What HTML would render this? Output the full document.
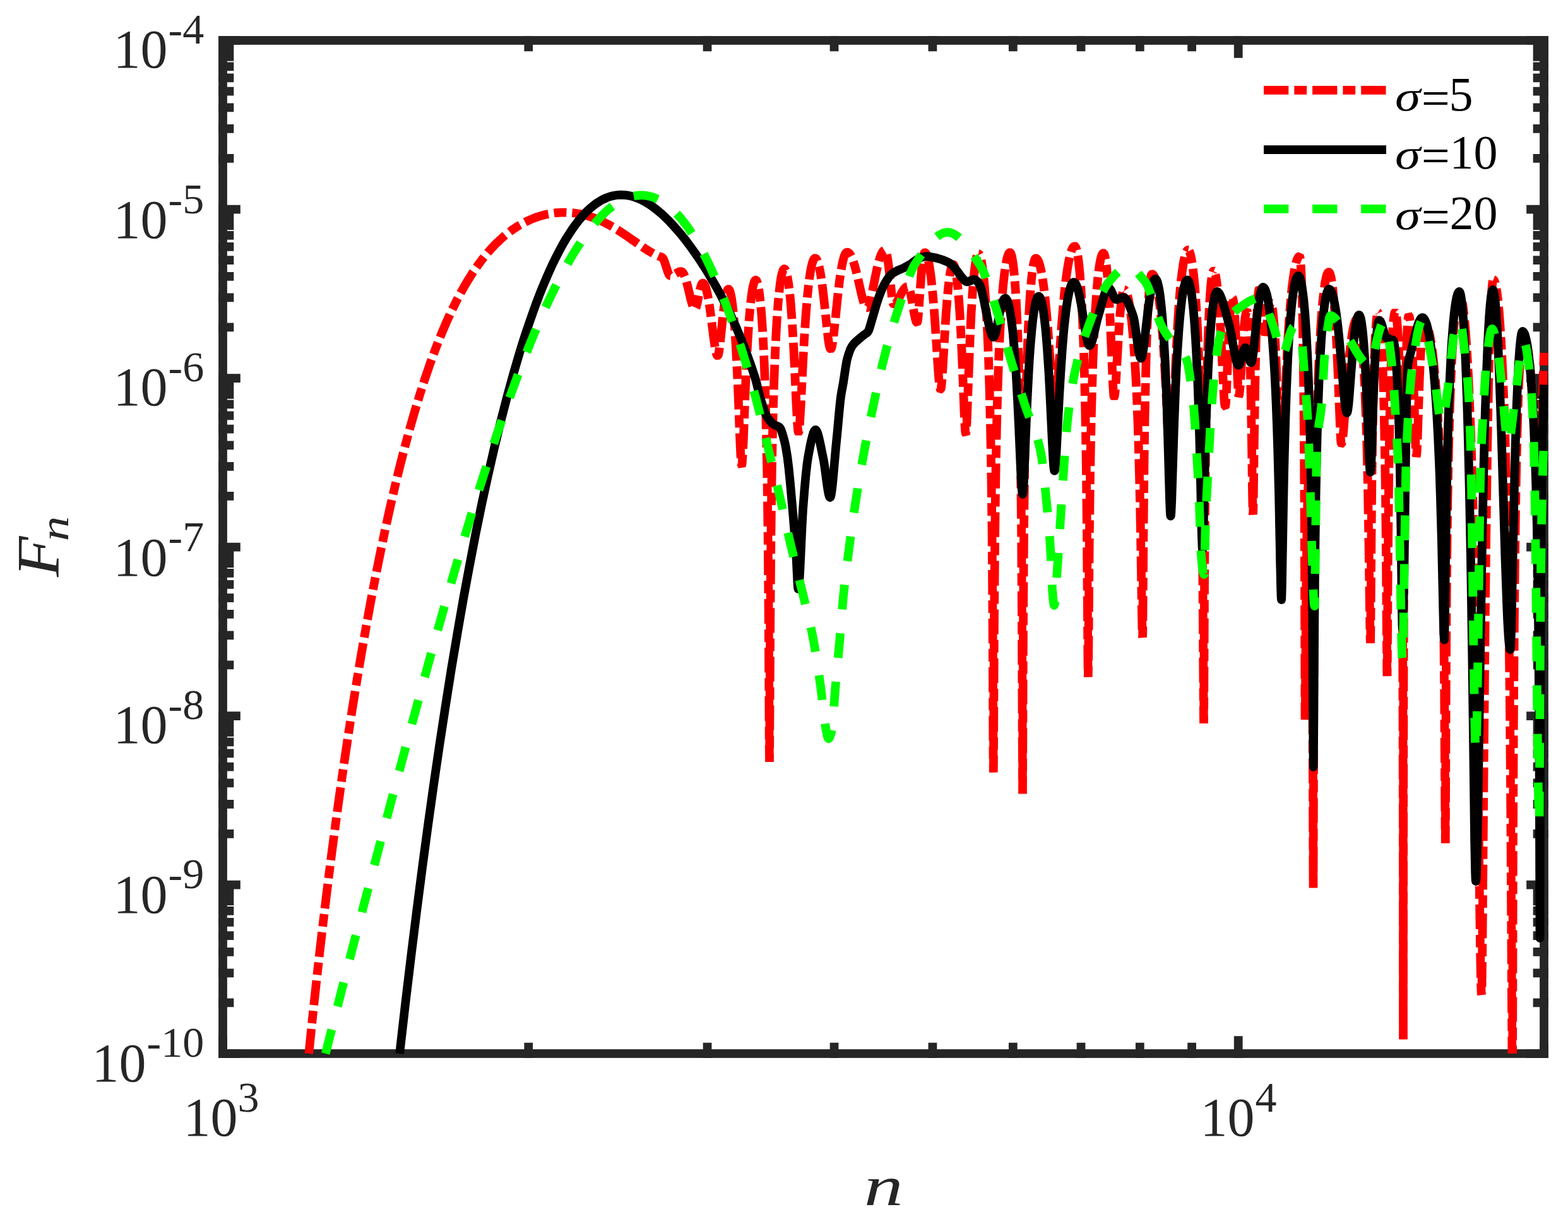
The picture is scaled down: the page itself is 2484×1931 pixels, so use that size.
<!DOCTYPE html>
<html lang="en"><head><meta charset="utf-8"><title>F_n versus n</title>
<style>
html,body{margin:0;padding:0;background:#fff}
body{width:2484px;height:1931px;overflow:hidden}
svg{display:block}
text{font-family:"Liberation Serif","DejaVu Serif",serif}
</style></head><body>
<svg width="2484" height="1931" viewBox="0 0 2484 1931">
<rect x="353.0" y="64.0" width="2093.0" height="1605.0" fill="none" stroke="#262626" stroke-width="13.75"/>
<path d="M353.00 1669.00h20.93M2446.00 1669.00h-20.93M353.00 1588.47h10.46M2446.00 1588.47h-10.46M353.00 1541.37h10.46M2446.00 1541.37h-10.46M353.00 1507.95h10.46M2446.00 1507.95h-10.46M353.00 1482.03h10.46M2446.00 1482.03h-10.46M353.00 1460.84h10.46M2446.00 1460.84h-10.46M353.00 1442.94h10.46M2446.00 1442.94h-10.46M353.00 1427.42h10.46M2446.00 1427.42h-10.46M353.00 1413.74h10.46M2446.00 1413.74h-10.46M353.00 1401.50h20.93M2446.00 1401.50h-20.93M353.00 1320.97h10.46M2446.00 1320.97h-10.46M353.00 1273.87h10.46M2446.00 1273.87h-10.46M353.00 1240.45h10.46M2446.00 1240.45h-10.46M353.00 1214.53h10.46M2446.00 1214.53h-10.46M353.00 1193.34h10.46M2446.00 1193.34h-10.46M353.00 1175.44h10.46M2446.00 1175.44h-10.46M353.00 1159.92h10.46M2446.00 1159.92h-10.46M353.00 1146.24h10.46M2446.00 1146.24h-10.46M353.00 1134.00h20.93M2446.00 1134.00h-20.93M353.00 1053.47h10.46M2446.00 1053.47h-10.46M353.00 1006.37h10.46M2446.00 1006.37h-10.46M353.00 972.95h10.46M2446.00 972.95h-10.46M353.00 947.03h10.46M2446.00 947.03h-10.46M353.00 925.84h10.46M2446.00 925.84h-10.46M353.00 907.94h10.46M2446.00 907.94h-10.46M353.00 892.42h10.46M2446.00 892.42h-10.46M353.00 878.74h10.46M2446.00 878.74h-10.46M353.00 866.50h20.93M2446.00 866.50h-20.93M353.00 785.97h10.46M2446.00 785.97h-10.46M353.00 738.87h10.46M2446.00 738.87h-10.46M353.00 705.45h10.46M2446.00 705.45h-10.46M353.00 679.53h10.46M2446.00 679.53h-10.46M353.00 658.34h10.46M2446.00 658.34h-10.46M353.00 640.44h10.46M2446.00 640.44h-10.46M353.00 624.92h10.46M2446.00 624.92h-10.46M353.00 611.24h10.46M2446.00 611.24h-10.46M353.00 599.00h20.93M2446.00 599.00h-20.93M353.00 518.47h10.46M2446.00 518.47h-10.46M353.00 471.37h10.46M2446.00 471.37h-10.46M353.00 437.95h10.46M2446.00 437.95h-10.46M353.00 412.03h10.46M2446.00 412.03h-10.46M353.00 390.84h10.46M2446.00 390.84h-10.46M353.00 372.94h10.46M2446.00 372.94h-10.46M353.00 357.42h10.46M2446.00 357.42h-10.46M353.00 343.74h10.46M2446.00 343.74h-10.46M353.00 331.50h20.93M2446.00 331.50h-20.93M353.00 250.97h10.46M2446.00 250.97h-10.46M353.00 203.87h10.46M2446.00 203.87h-10.46M353.00 170.45h10.46M2446.00 170.45h-10.46M353.00 144.53h10.46M2446.00 144.53h-10.46M353.00 123.34h10.46M2446.00 123.34h-10.46M353.00 105.44h10.46M2446.00 105.44h-10.46M353.00 89.92h10.46M2446.00 89.92h-10.46M353.00 76.24h10.46M2446.00 76.24h-10.46M353.00 64.00h20.93M2446.00 64.00h-20.93M353.00 1669.00v-20.93M353.00 64.00v20.93M1961.70 1669.00v-20.93M1961.70 64.00v20.93M837.27 1669.00v-10.46M837.27 64.00v10.46M1120.54 1669.00v-10.46M1120.54 64.00v10.46M1321.53 1669.00v-10.46M1321.53 64.00v10.46M1477.43 1669.00v-10.46M1477.43 64.00v10.46M1604.81 1669.00v-10.46M1604.81 64.00v10.46M1712.51 1669.00v-10.46M1712.51 64.00v10.46M1805.80 1669.00v-10.46M1805.80 64.00v10.46M1888.09 1669.00v-10.46M1888.09 64.00v10.46M2445.97 1669.00v-10.46M2445.97 64.00v10.46" fill="none" stroke="#262626" stroke-width="13.75" stroke-linecap="square"/>
<g fill="none" stroke="#ff0000" stroke-width="13.75" stroke-linejoin="bevel" stroke-linecap="butt" stroke-dasharray="39.3 9 19.8 9">
<path d="M489.3 1669.0 L494.6 1616.6 L500.6 1560.7 L506.6 1507.0 L512.6 1455.5 L518.6 1406.1 L525.1 1354.6 L531.6 1305.2 L538.1 1257.8 L544.6 1212.2 L551.6 1165.1 L558.6 1119.9 L565.6 1076.6 L572.6 1035.0 L580.1 992.3 L587.6 951.4 L595.1 912.4 L602.6 875.1 L610.1 839.4 L617.6 805.4 L625.6 770.8 L633.1 740.0 L641.1 708.8 L649.1 679.2 L657.1 651.3 L665.1 624.9 L673.1 600.1 L681.1 576.7 L689.6 553.5 L698.1 531.8 L706.6 511.7 L715.1 493.0 L723.6 475.7 L732.1 459.8 L736.6 451.9 L741.1 444.3 L745.6 437.1 L750.1 430.1 L754.6 423.6 L759.1 417.3 L763.6 411.3 L768.6 405.0 L773.6 399.1 L778.1 394.0 L782.6 389.2 L787.6 384.2 L792.6 379.5 L797.6 375.0 L802.6 370.9 L807.6 367.0 L812.6 363.4 L818.1 359.7 L823.6 356.4 L829.1 353.3 L834.6 350.5 L840.1 348.0 L846.1 345.5 L851.6 343.5 L857.1 341.8 L862.6 340.3 L868.6 339.0 L874.1 338.0 L880.1 337.2 L885.6 336.8 L889.1 336.6 L895.6 336.5 L902.1 336.8 L909.6 337.5 L917.6 338.7 L925.6 340.5 L933.6 342.7 L941.6 345.5 L949.6 348.7 L956.6 352.0 L963.6 355.6 L970.6 359.5 L978.1 364.0 L984.6 368.2 L991.6 372.9 L1019.1 392.0 L1025.3 396.1 L1030.2 399.0 L1035.2 401.8 L1039.7 404.1 L1044.7 406.3 L1049.0 407.8 L1049.5 408.1 L1050.5 409.4 L1052.0 412.6 L1053.5 416.8 L1058.0 430.8 L1059.5 434.4 L1060.5 436.0 L1061.0 436.5 L1061.5 436.9 L1062.5 437.0 L1064.0 436.8 L1065.5 436.3 L1068.0 435.0 L1074.0 431.4 L1076.0 430.5 L1077.5 430.1 L1079.0 430.0 L1080.0 430.2 L1081.0 430.9 L1082.5 432.9 L1083.5 434.7 L1085.0 438.3 L1086.0 441.2 L1087.5 446.2 L1089.5 453.9 L1094.5 474.9 L1096.5 482.0 L1097.5 484.8 L1098.5 487.1 L1099.5 488.6 L1100.5 489.4 L1101.0 489.5 L1101.5 489.3 L1102.0 488.7 L1103.0 486.5 L1104.5 480.9 L1108.4 461.0 L1109.9 454.9 L1110.9 451.8 L1111.9 449.6 L1112.4 448.9 L1112.9 448.5 L1113.4 448.4 L1113.9 448.5" stroke-dashoffset="0.00"/>
<path d="M1113.4 448.4 L1113.9 448.5 L1114.9 449.1 L1115.9 450.4 L1116.9 452.4 L1117.9 455.0 L1118.9 458.3 L1120.9 466.6 L1122.9 477.5 L1124.9 490.5 L1126.8 505.4 L1130.8 537.0 L1132.8 550.7 L1133.8 556.1 L1134.8 560.2 L1135.8 562.8 L1136.3 563.5 L1136.8 563.7 L1137.3 563.4 L1137.8 562.3 L1138.3 560.6 L1138.8 558.3 L1139.7 552.1 L1141.2 539.7 L1145.6 497.0 L1147.1 484.9 L1148.6 474.7 L1150.1 466.9 L1151.5 461.5 L1152.5 459.3 L1153.0 458.6 L1153.5 458.1 L1154.0 458.0 L1154.5 458.2" stroke-dashoffset="12.32"/>
<path d="M1154.0 458.0 L1154.5 458.2 L1155.0 458.6 L1155.5 459.4 L1156.5 461.8 L1158.1 467.9 L1159.1 473.6 L1160.6 484.7 L1161.6 493.9 L1163.7 517.1 L1165.7 547.3 L1167.7 585.7 L1169.3 620.2 L1172.1 693.8 L1173.3 719.5 L1174.2 733.0 L1174.6 736.1 L1174.8 736.8 L1175.0 737.0 L1175.2 736.6 L1175.4 735.7 L1175.8 732.5 L1176.8 717.2 L1177.7 697.9 L1181.0 612.2 L1182.5 577.9 L1184.5 539.6 L1186.5 509.1 L1187.6 496.5 L1189.1 480.4 L1190.1 471.5 L1191.6 460.6 L1192.6 454.9 L1194.2 448.6 L1194.7 447.1 L1195.7 444.8 L1196.2 444.2 L1196.7 443.7 L1197.2 443.6 L1197.7 443.7" stroke-dashoffset="1.40"/>
<path d="M1197.2 443.6 L1197.7 443.7 L1198.2 444.2 L1198.7 444.9 L1199.7 447.4 L1200.7 451.0 L1201.7 455.9 L1203.2 465.8 L1204.2 474.2 L1206.2 495.8 L1208.2 525.0 L1209.7 553.1 L1211.2 588.2 L1212.6 632.7 L1214.1 691.0 L1215.2 743.5 L1216.0 800.8 L1216.7 857.6 L1217.6 966.8 L1218.7 1181.7 L1219.0 1207.0 L1219.2 1184.0 L1220.3 977.4 L1221.5 840.8 L1222.2 783.7 L1223.1 726.2 L1224.2 674.8 L1225.7 618.8 L1227.3 575.7 L1228.8 541.3 L1230.8 505.4 L1232.8 478.1 L1234.9 457.5 L1235.9 449.4 L1237.4 439.6 L1238.4 434.7 L1240.0 429.4 L1241.0 427.2 L1241.5 426.5 L1242.0 426.1 L1242.5 426.0 L1243.0 426.1" stroke-dashoffset="32.80"/>
<path d="M1242.5 426.0 L1243.0 426.1 L1243.5 426.5 L1244.0 427.2 L1245.1 429.4 L1246.6 434.6 L1247.6 439.6 L1249.2 449.2 L1250.2 457.1 L1251.8 471.4 L1252.8 482.7 L1254.8 509.8 L1256.9 543.5 L1258.4 573.1 L1261.5 639.5 L1262.9 666.4 L1263.6 676.0 L1264.0 680.8 L1264.6 684.1 L1264.8 684.8 L1265.0 685.0 L1265.3 684.7 L1265.5 683.9 L1266.0 681.1 L1266.5 676.8 L1267.1 668.0 L1268.6 642.8 L1272.3 568.6 L1274.3 533.1 L1276.8 496.2 L1279.3 466.9 L1280.8 452.7 L1282.3 440.7 L1283.8 430.8 L1285.3 422.8 L1286.8 416.7 L1288.3 412.4 L1288.8 411.4 L1289.8 409.8 L1290.3 409.4 L1290.8 409.1 L1291.3 409.0 L1292.3 409.3" stroke-dashoffset="35.47"/>
<path d="M1291.3 409.0 L1292.3 409.3 L1292.8 409.7 L1293.8 411.0 L1294.8 413.0 L1295.7 415.6 L1296.7 418.9 L1297.7 422.8 L1298.7 427.4 L1300.2 435.5 L1302.2 448.6 L1304.1 464.1 L1306.1 481.7 L1310.1 519.6 L1312.0 536.6 L1313.0 543.4 L1314.0 548.6 L1315.0 551.9 L1315.5 552.7 L1316.1 553.0 L1316.5 552.7 L1317.0 551.9 L1317.9 549.1 L1318.7 544.7 L1320.0 535.9 L1321.7 521.3 L1327.8 462.7 L1330.3 442.2 L1332.4 428.6 L1334.4 417.6 L1335.4 413.1 L1336.9 407.5 L1337.9 404.6 L1339.5 401.5 L1340.5 400.2 L1341.0 399.8 L1342.0 399.5 L1343.0 399.7" stroke-dashoffset="33.34"/>
<path d="M1342.0 399.5 L1343.0 399.7 L1344.0 400.1 L1345.0 400.9 L1346.5 402.6 L1347.5 404.1 L1349.0 407.0 L1351.5 413.1 L1354.0 420.9 L1356.5 430.2 L1359.0 440.7 L1364.5 465.0 L1366.0 471.1 L1367.5 476.6 L1369.0 481.2 L1370.5 484.6 L1371.5 486.2 L1372.0 486.8 L1373.0 487.4 L1373.5 487.5 L1374.0 487.4 L1374.5 487.1 L1375.0 486.6 L1376.0 484.9 L1377.5 481.0 L1379.0 475.7 L1381.5 464.6 L1386.5 439.1 L1389.0 427.1 L1391.5 416.7 L1393.5 409.7 L1395.0 405.3 L1396.0 402.9 L1397.0 400.8 L1398.0 399.1 L1399.0 397.7 L1400.0 396.8 L1401.0 396.2 L1402.0 396.0 L1402.5 396.2" stroke-dashoffset="29.89"/>
<path d="M1402.0 396.0 L1402.5 396.2 L1403.0 396.8 L1404.0 399.0 L1404.9 402.8 L1406.4 411.2 L1408.4 426.7 L1412.8 468.9 L1413.7 475.9 L1414.2 478.5 L1414.7 480.4 L1415.2 481.6 L1415.7 482.0 L1417.2 481.6 L1418.2 481.0 L1419.7 479.5 L1421.2 477.5 L1422.7 474.9 L1428.7 463.3 L1430.2 460.7 L1431.7 458.4 L1433.2 456.5 L1434.7 455.1 L1436.2 454.3 L1437.7 454.0 L1438.2 454.1" stroke-dashoffset="69.27"/>
<path d="M1437.7 454.0 L1438.2 454.1 L1438.7 454.5 L1439.6 455.8 L1440.6 458.1 L1441.6 461.2 L1442.6 465.1 L1444.0 472.2 L1447.9 494.8 L1449.9 504.6 L1450.9 508.1 L1451.8 510.2 L1452.3 510.8 L1452.8 511.0 L1453.3 510.3 L1453.8 508.1 L1454.3 504.7 L1455.2 494.5 L1459.1 439.5 L1460.1 427.8 L1461.1 417.9 L1462.1 410.1 L1463.0 404.5 L1464.0 401.1 L1464.5 400.3 L1465.0 400.0 L1465.5 400.1" stroke-dashoffset="39.75"/>
<path d="M1465.0 400.0 L1465.5 400.1 L1466.0 400.4 L1466.5 400.9 L1467.6 402.6 L1469.1 406.6 L1470.1 410.3 L1471.7 417.5 L1472.7 423.4 L1474.2 434.0 L1475.3 442.3 L1477.8 467.3 L1479.9 492.0 L1481.9 520.6 L1485.6 577.3 L1487.0 596.7 L1488.0 607.1 L1488.6 612.3 L1489.3 615.7 L1489.6 616.6 L1489.9 617.0 L1490.2 616.9 L1490.5 616.2 L1491.1 613.2 L1491.6 608.8 L1492.4 600.1 L1493.5 583.5 L1496.6 530.9 L1498.6 498.5 L1500.7 471.5 L1502.3 455.1 L1503.8 441.9 L1504.8 434.8 L1505.9 429.1 L1506.9 424.6 L1507.9 421.5 L1509.0 419.6 L1509.5 419.2 L1510.0 419.0 L1510.5 419.2" stroke-dashoffset="62.47"/>
<path d="M1510.0 419.0 L1510.5 419.2 L1511.0 419.7 L1511.5 420.5 L1512.6 423.3 L1513.6 427.5 L1514.6 433.1 L1516.2 444.5 L1517.2 454.0 L1519.3 478.4 L1521.4 510.6 L1522.9 540.5 L1524.5 575.5 L1527.3 647.4 L1528.2 666.9 L1529.1 682.4 L1529.6 686.0 L1529.8 686.8 L1530.0 687.0 L1530.4 685.8 L1530.7 682.8 L1531.6 668.6 L1536.6 538.4 L1538.6 495.7 L1540.7 462.5 L1542.8 437.6 L1543.8 427.9 L1545.4 416.4 L1546.4 410.6 L1547.4 406.4 L1548.5 403.6 L1549.0 402.7 L1549.5 402.2 L1550.0 402.0 L1550.5 402.1" stroke-dashoffset="26.93"/>
<path d="M1550.0 402.0 L1550.5 402.1 L1551.0 402.5 L1551.5 403.1 L1552.5 405.2 L1554.0 410.2 L1555.0 414.9 L1556.5 424.1 L1557.5 431.8 L1559.0 445.8 L1560.0 457.0 L1562.0 484.4 L1564.0 520.1 L1566.0 567.2 L1567.5 613.4 L1569.0 673.9 L1570.1 731.6 L1570.9 789.4 L1571.6 846.9 L1572.6 984.7 L1573.5 1198.8 L1573.8 1223.7 L1574.0 1198.4 L1575.0 983.0 L1576.2 845.0 L1576.9 787.5 L1577.8 729.6 L1579.0 671.9 L1580.5 616.5 L1582.0 573.2 L1584.0 528.1 L1586.0 493.2 L1587.0 478.7 L1588.5 459.9 L1589.5 449.2 L1591.0 435.4 L1592.5 424.2 L1594.0 415.3 L1595.5 408.5 L1597.0 403.8 L1597.5 402.6 L1598.5 400.9 L1599.0 400.4 L1599.5 400.1 L1600.0 400.0 L1600.5 400.2" stroke-dashoffset="36.88"/>
<path d="M1600.0 400.0 L1600.5 400.2 L1601.0 400.8 L1601.5 401.7 L1602.6 404.8 L1603.6 409.5 L1604.6 415.8 L1605.7 423.9 L1606.7 433.9 L1607.7 445.9 L1608.8 460.1 L1609.8 477.0 L1610.8 496.8 L1612.4 533.4 L1613.9 580.9 L1615.0 621.3 L1616.0 672.2 L1616.9 730.0 L1618.2 846.1 L1619.0 986.7 L1620.0 1257.5 L1621.0 994.8 L1621.9 854.8 L1622.5 797.0 L1623.2 738.9 L1624.2 681.1 L1625.2 633.1 L1626.7 577.6 L1628.3 535.4 L1629.8 502.3 L1631.8 468.4 L1632.9 455.1 L1633.9 443.7 L1634.9 434.1 L1636.4 422.9 L1637.4 417.3 L1638.5 413.2 L1639.5 410.5 L1640.0 409.7 L1640.5 409.2 L1641.0 409.0 L1642.0 409.3" stroke-dashoffset="1.64"/>
<path d="M1641.0 409.0 L1642.0 409.3 L1643.0 410.2 L1644.6 412.6 L1646.1 416.3 L1647.6 421.4 L1649.7 430.4 L1651.2 438.9 L1652.7 449.0 L1654.3 460.6 L1655.8 474.0 L1657.3 489.1 L1659.9 518.6 L1662.4 553.0 L1666.4 610.7 L1667.8 630.0 L1668.9 640.3 L1669.5 645.4 L1670.3 649.0 L1670.7 649.8 L1671.1 650.0 L1671.4 649.7 L1671.7 648.8 L1672.3 645.7 L1673.0 640.9 L1673.9 631.3 L1675.3 612.9 L1679.8 543.4 L1682.3 509.0 L1685.3 474.1 L1686.7 459.3 L1688.2 446.2 L1689.7 434.7 L1691.7 421.5 L1693.2 413.3 L1695.2 404.4 L1696.7 399.2 L1697.6 396.3 L1698.6 394.1 L1699.6 392.3 L1700.6 391.0 L1701.6 390.3 L1702.6 390.0 L1703.1 390.2" stroke-dashoffset="13.32"/>
<path d="M1702.6 390.0 L1703.1 390.2 L1703.6 390.6 L1704.6 392.5 L1705.6 395.7 L1706.6 400.3 L1707.6 406.2 L1708.6 413.6 L1709.6 422.5 L1710.6 433.1 L1712.6 460.0 L1714.0 486.1 L1715.5 518.8 L1717.0 560.2 L1718.0 594.2 L1719.0 635.6 L1720.0 687.9 L1720.9 743.8 L1722.0 850.9 L1723.4 1045.5 L1723.6 1066.2 L1723.8 1072.5 L1723.9 1066.7 L1724.2 1047.7 L1725.7 860.2 L1727.0 754.2 L1728.0 698.5 L1729.1 649.3 L1730.1 612.4 L1731.6 567.5 L1733.1 531.6 L1735.1 493.9 L1737.1 464.8 L1739.0 442.3 L1741.0 425.4 L1742.0 418.8 L1743.5 410.9 L1744.5 406.9 L1745.5 404.0 L1746.5 402.1 L1747.0 401.5 L1747.5 401.1 L1748.0 401.0 L1748.5 401.2" stroke-dashoffset="60.83"/>
<path d="M1748.0 401.0 L1748.5 401.2 L1749.0 401.9 L1750.0 404.5 L1751.0 408.8 L1751.5 411.7 L1752.5 418.8 L1753.5 427.8 L1755.1 445.1 L1757.1 475.8 L1758.6 504.8 L1762.4 593.8 L1763.2 611.3 L1764.1 623.8 L1764.4 627.1 L1764.9 628.9 L1765.0 629.0 L1765.1 628.9 L1765.4 628.4 L1766.0 625.3 L1766.5 621.2 L1767.2 612.9 L1768.2 597.0 L1772.3 525.8 L1773.8 504.1 L1774.9 492.0 L1776.4 477.4 L1777.9 467.2 L1778.4 464.7 L1779.5 461.0 L1780.0 459.9 L1780.5 459.2 L1781.0 459.0 L1781.5 459.1" stroke-dashoffset="28.75"/>
<path d="M1781.0 459.0 L1781.5 459.1 L1782.0 459.3 L1782.5 459.8 L1783.5 461.2 L1785.0 464.5 L1786.0 467.7 L1787.6 473.8 L1788.6 478.9 L1790.1 488.0 L1791.1 495.2 L1792.6 507.7 L1793.6 517.3 L1795.6 540.1 L1797.6 568.3 L1799.7 603.4 L1801.2 635.7 L1802.7 674.6 L1803.7 705.4 L1804.9 748.9 L1806.1 799.7 L1807.0 846.9 L1809.2 985.1 L1809.6 1003.8 L1809.8 1008.3 L1810.0 1009.5 L1810.2 1004.1 L1810.4 985.9 L1811.6 827.4 L1812.6 726.1 L1813.5 665.7 L1815.1 589.1 L1816.1 551.7 L1817.2 521.8 L1818.2 497.7 L1819.3 478.4 L1820.3 463.1 L1821.9 446.6 L1822.4 442.7 L1823.4 437.1 L1824.0 435.4 L1824.5 434.3 L1825.0 434.0 L1826.0 434.3" stroke-dashoffset="37.42"/>
<path d="M1825.0 434.0 L1826.0 434.3 L1827.0 435.3 L1828.1 436.8 L1829.1 439.1 L1830.1 442.0 L1831.1 445.5 L1833.2 454.7 L1835.2 466.9 L1836.7 478.1 L1838.8 496.2 L1840.3 512.3 L1842.9 544.9 L1845.4 586.1 L1847.0 615.6 L1848.5 649.1 L1852.9 755.6 L1853.5 768.1 L1854.0 774.3 L1854.5 778.8 L1854.8 779.7 L1855.0 780.0 L1855.4 778.3 L1855.8 773.9 L1856.7 753.7 L1860.4 634.2 L1862.4 580.2 L1863.4 557.2 L1864.9 527.1 L1865.9 509.6 L1867.4 486.5 L1868.9 466.9 L1870.9 445.4 L1872.5 432.2 L1874.5 418.1 L1876.0 410.0 L1877.0 405.7 L1878.0 402.2 L1879.0 399.5 L1880.0 397.5 L1881.0 396.4 L1881.5 396.1 L1882.0 396.0 L1882.5 396.1" stroke-dashoffset="10.14"/>
<path d="M1882.0 396.0 L1882.5 396.1 L1883.0 396.5 L1883.5 397.1 L1884.6 399.0 L1886.1 403.8 L1887.1 408.3 L1888.7 417.0 L1889.7 424.2 L1891.2 437.4 L1892.3 447.9 L1894.3 473.6 L1896.4 506.8 L1898.4 550.2 L1899.9 592.0 L1901.5 645.6 L1902.6 695.7 L1903.6 752.8 L1904.4 809.3 L1905.4 917.5 L1906.7 1123.2 L1907.0 1146.0 L1907.2 1118.0 L1908.1 920.3 L1908.9 812.6 L1910.1 699.6 L1911.7 611.5 L1912.7 569.6 L1913.7 536.2 L1914.8 509.3 L1916.3 478.1 L1917.8 455.8 L1919.4 440.6 L1919.9 437.0 L1921.0 431.9 L1921.5 430.3 L1922.0 429.3 L1922.5 429.0 L1923.0 429.2" stroke-dashoffset="45.75"/>
<path d="M1922.5 429.0 L1923.0 429.2 L1923.5 429.7 L1924.5 431.9 L1925.6 435.7 L1926.6 440.9 L1927.6 447.7 L1928.6 456.1 L1930.2 471.9 L1932.2 499.2 L1933.7 524.5 L1938.8 624.1 L1939.8 638.1 L1940.3 641.9 L1940.8 643.9 L1941.0 644.0 L1941.2 643.6 L1941.6 641.1 L1942.1 636.0 L1942.6 627.5 L1946.4 536.6 L1947.4 516.7 L1948.4 500.4 L1949.4 487.9 L1950.5 479.0 L1951.0 475.9 L1951.5 473.8 L1952.0 472.4 L1952.5 472.0 L1953.0 472.6" stroke-dashoffset="41.42"/>
<path d="M1952.5 472.0 L1953.0 472.6 L1953.6 474.4 L1954.1 477.4 L1954.6 481.6 L1955.7 493.8 L1956.2 501.7 L1957.8 532.7 L1961.0 609.6 L1961.7 621.9 L1962.1 625.6 L1962.4 627.0 L1963.0 626.1 L1963.5 623.4 L1964.5 613.4 L1965.5 599.0 L1969.0 541.7 L1970.0 528.0 L1971.0 516.5 L1972.5 503.5 L1973.5 497.6 L1974.0 495.6 L1974.5 494.2 L1975.0 493.3 L1975.5 493.0 L1976.0 493.8" stroke-dashoffset="49.60"/>
<path d="M1975.5 493.0 L1976.0 493.8 L1976.5 496.1 L1977.0 499.9 L1978.0 512.6 L1979.0 532.3 L1980.1 560.2 L1981.6 621.2 L1982.6 678.1 L1984.2 789.8 L1984.6 809.1 L1984.8 813.7 L1985.0 815.0 L1985.3 808.7 L1985.7 788.2 L1987.0 688.3 L1988.1 618.2 L1988.6 589.9 L1989.7 544.4 L1990.7 510.8 L1991.3 497.6 L1992.3 477.5 L1993.4 464.6 L1993.9 460.6 L1994.5 458.3 L1995.0 457.5 L1995.5 457.9" stroke-dashoffset="37.03"/>
<path d="M1995.0 457.5 L1995.5 457.9 L1996.0 459.1 L1996.5 461.1 L1997.5 467.3 L1999.0 481.7 L2002.0 517.2 L2003.0 525.1 L2003.5 527.3 L2004.0 528.0 L2004.5 527.5 L2005.0 526.2 L2006.0 521.2 L2007.0 514.0 L2009.5 493.7 L2010.5 487.2 L2011.5 482.7 L2012.0 481.2 L2012.5 480.3 L2013.0 480.0 L2013.5 480.3" stroke-dashoffset="23.39"/>
<path d="M2013.0 480.0 L2013.5 480.3 L2014.0 481.1 L2014.5 482.6 L2015.6 487.2 L2016.6 494.3 L2017.1 498.8 L2018.1 509.7 L2019.1 523.6 L2020.2 540.8 L2021.2 561.7 L2022.2 586.9 L2023.8 635.1 L2024.8 676.1 L2026.2 748.4 L2028.2 877.9 L2028.6 894.9 L2028.8 898.9 L2029.0 900.0 L2029.3 898.4 L2029.5 894.2 L2030.1 875.0 L2033.0 735.9 L2035.0 664.2 L2036.0 633.1 L2037.5 593.5 L2039.0 560.5 L2040.5 532.7 L2042.6 501.9 L2044.6 476.9 L2046.6 456.6 L2048.7 440.4 L2049.7 433.6 L2051.2 424.9 L2052.2 420.1 L2053.7 414.3 L2054.7 411.3 L2056.3 408.1 L2057.3 406.7 L2057.8 406.3 L2058.8 406.0 L2059.3 406.9" stroke-dashoffset="68.47"/>
<path d="M2058.8 406.0 L2059.3 406.9 L2059.8 409.8 L2060.3 414.5 L2060.8 421.3 L2061.8 441.4 L2062.3 455.1 L2063.3 491.6 L2063.8 515.4 L2064.8 578.8 L2065.8 676.9 L2066.5 790.5 L2066.9 899.5 L2067.5 1139.9 L2067.7 1134.1 L2067.9 1114.5 L2069.2 934.4 L2070.3 848.0 L2070.8 818.9 L2071.4 796.6 L2071.9 780.1 L2072.4 768.8 L2073.0 762.2 L2073.5 760.0 L2074.0 761.4" stroke-dashoffset="63.65"/>
<path d="M2073.5 760.0 L2074.0 761.5 L2074.5 766.1 L2075.0 773.9 L2076.0 800.0 L2077.1 843.4 L2078.1 912.3 L2078.6 962.0 L2079.4 1084.1 L2080.5 1406.6 L2081.3 1109.8 L2081.7 1025.1 L2082.2 937.9 L2083.1 849.8 L2083.8 791.0 L2084.8 732.6 L2085.9 681.8 L2087.4 627.7 L2089.4 573.6 L2091.4 532.9 L2092.4 516.3 L2093.9 495.0 L2094.9 483.0 L2096.5 467.7 L2097.5 459.3 L2099.0 448.8 L2100.5 440.9 L2102.0 435.4 L2102.5 434.0 L2103.5 432.1 L2104.0 431.5 L2104.5 431.1 L2105.0 431.0 L2105.5 431.2" stroke-dashoffset="21.04"/>
<path d="M2105.0 431.0 L2105.5 431.2 L2106.0 431.7 L2106.5 432.6 L2107.6 435.3 L2108.6 439.5 L2109.6 445.2 L2111.2 456.6 L2112.2 466.2 L2114.3 490.7 L2116.4 523.1 L2117.9 553.3 L2119.5 588.7 L2123.2 682.2 L2124.0 696.8 L2124.5 701.3 L2124.9 702.9 L2125.0 703.0 L2125.2 702.9 L2125.6 702.2 L2126.4 699.2 L2127.0 694.8 L2128.0 686.1 L2129.4 669.5 L2133.6 612.0 L2135.6 586.4 L2138.2 559.2 L2140.3 541.6 L2142.3 527.6 L2143.3 521.9 L2144.9 514.9 L2145.9 511.3 L2147.4 507.5 L2148.5 505.9 L2149.0 505.4 L2149.5 505.1 L2150.0 505.0 L2150.5 505.2" stroke-dashoffset="22.95"/>
<path d="M2150.0 505.0 L2150.5 505.2 L2151.0 505.7 L2152.0 507.7 L2153.1 511.0 L2153.6 513.3 L2154.6 518.7 L2155.6 525.7 L2157.1 539.2 L2158.7 556.7 L2160.2 578.9 L2161.7 606.6 L2162.7 628.8 L2163.7 654.8 L2164.8 685.3 L2165.8 721.6 L2166.8 765.3 L2168.5 861.7 L2170.3 995.6 L2170.7 1013.4 L2171.0 1018.7 L2171.2 1012.9 L2171.4 993.7 L2172.4 854.1 L2173.4 756.3 L2174.4 684.7 L2175.4 632.2 L2176.9 576.1 L2177.9 549.2 L2179.0 528.7 L2180.0 513.6 L2181.0 503.1 L2181.5 499.6 L2182.0 497.0 L2182.5 495.5 L2183.0 495.0 L2183.5 495.3" stroke-dashoffset="36.82"/>
<path d="M2183.0 495.0 L2183.5 495.3 L2184.0 496.4 L2184.5 498.1 L2185.5 503.7 L2186.0 507.6 L2187.5 524.1 L2188.5 539.4 L2189.6 558.7 L2190.6 582.8 L2191.6 612.7 L2192.6 650.1 L2194.1 726.7 L2195.0 787.2 L2196.0 888.5 L2197.1 1047.3 L2197.3 1065.5 L2197.5 1071.0 L2197.8 1052.2 L2198.8 887.7 L2199.8 786.3 L2200.6 721.1 L2202.1 637.0 L2203.6 581.1 L2204.7 554.0 L2205.7 533.0 L2206.7 517.1 L2207.7 505.6 L2208.8 498.1 L2209.3 495.8 L2209.8 494.5 L2210.3 494.0 L2210.8 494.5" stroke-dashoffset="66.86"/>
<path d="M2210.3 494.0 L2210.8 494.5 L2211.3 495.8 L2211.8 498.2 L2212.8 505.7 L2213.3 510.9 L2214.9 533.3 L2216.4 567.4 L2217.9 617.5 L2218.9 663.7 L2220.0 726.2 L2220.5 766.8 L2221.5 884.0 L2222.3 1061.9 L2222.8 1296.0 L2223.0 1646.4 L2223.2 1273.2 L2223.5 1067.9 L2224.0 890.0 L2224.7 772.8 L2225.2 717.0 L2226.2 638.5 L2226.7 609.8 L2227.7 565.9 L2228.7 535.5 L2229.7 515.3 L2230.2 508.5 L2230.7 503.8 L2231.2 500.9 L2231.7 500.0 L2232.2 500.4" stroke-dashoffset="68.90"/>
<path d="M2231.7 500.0 L2232.2 500.4 L2232.7 501.7 L2233.2 503.9 L2234.2 510.9 L2235.3 521.6 L2235.8 528.4 L2236.8 545.1 L2237.8 565.9 L2238.8 591.3 L2242.5 705.2 L2243.2 718.2 L2243.5 720.9 L2243.8 722.0 L2243.9 721.8 L2244.1 721.0 L2244.5 717.6 L2245.3 702.7 L2248.8 599.1 L2249.8 574.6 L2250.9 554.2 L2251.9 537.9 L2252.4 531.3 L2253.4 520.8 L2254.5 513.8 L2255.0 511.7 L2255.5 510.4 L2256.0 510.0 L2257.0 510.3" stroke-dashoffset="59.56"/>
<path d="M2256.0 510.0 L2257.0 510.3 L2258.0 511.0 L2259.0 512.3 L2260.0 514.0 L2261.0 516.3 L2262.0 519.2 L2263.5 524.4 L2265.5 533.5 L2267.0 541.9 L2269.0 555.4 L2270.5 567.4 L2272.0 581.4 L2273.5 597.4 L2275.0 615.8 L2276.5 637.0 L2279.0 680.4 L2281.0 724.7 L2283.0 782.0 L2284.6 839.6 L2285.8 897.5 L2286.7 955.1 L2287.4 1011.7 L2288.2 1093.2 L2289.5 1309.9 L2289.8 1335.6 L2290.8 1082.5 L2291.6 943.2 L2292.5 856.3 L2293.3 798.1 L2294.3 740.2 L2295.3 695.7 L2296.9 643.5 L2298.4 602.9 L2300.4 561.3 L2302.4 529.9 L2303.4 517.2 L2304.9 501.4 L2305.9 492.8 L2307.5 482.4 L2308.5 477.2 L2310.0 471.6 L2311.0 469.3 L2311.5 468.6 L2312.0 468.1 L2312.5 468.0 L2313.0 468.2" stroke-dashoffset="31.40"/>
<path d="M2312.5 468.0 L2313.0 468.2 L2313.5 468.6 L2314.0 469.5 L2315.0 472.1 L2316.5 478.4 L2317.5 484.3 L2319.0 495.8 L2320.0 505.1 L2321.5 521.9 L2322.5 535.0 L2325.0 574.6 L2327.1 614.3 L2329.6 675.1 L2331.6 734.1 L2333.1 785.4 L2334.6 843.7 L2336.1 910.1 L2337.6 985.9 L2339.1 1072.4 L2340.9 1194.6 L2345.1 1508.9 L2346.1 1559.7 L2346.6 1571.7 L2346.8 1574.3 L2347.0 1575.0 L2347.3 1570.5 L2347.6 1559.0 L2348.3 1505.2 L2351.2 1152.6 L2352.7 988.3 L2354.2 852.3 L2356.2 709.5 L2358.2 603.2 L2359.2 561.6 L2360.7 512.0 L2361.7 486.8 L2363.2 459.9 L2364.2 449.1 L2364.7 445.7 L2365.2 443.7 L2365.7 443.0 L2366.2 443.2" stroke-dashoffset="35.98"/>
<path d="M2365.7 443.0 L2366.2 443.2 L2366.7 443.6 L2367.2 444.4 L2368.2 446.8 L2368.7 448.5 L2370.2 455.4 L2371.8 465.2 L2373.3 478.0 L2374.8 494.0 L2376.3 513.5 L2377.3 528.5 L2378.8 554.4 L2379.8 574.1 L2382.4 633.5 L2384.4 693.7 L2386.4 768.9 L2387.9 838.6 L2389.4 924.3 L2390.7 1011.0 L2391.9 1117.1 L2392.8 1220.5 L2393.5 1319.0 L2395.4 1669.0" stroke-dashoffset="32.64"/>
<path d="M2396.2 1669.0 L2396.9 1352.4 L2397.8 1147.3 L2399.0 976.8 L2399.9 889.0 L2400.9 814.9 L2401.9 756.5 L2403.4 688.6 L2404.4 653.0 L2405.9 610.8 L2407.5 579.1 L2408.5 563.1 L2409.5 550.6 L2410.0 545.6 L2411.0 538.0 L2411.5 535.4 L2412.0 533.5 L2412.5 532.4 L2413.0 532.0 L2413.5 532.1" stroke-dashoffset="26.85"/>
<path d="M2413.0 532.0 L2413.5 532.1 L2414.0 532.4 L2414.5 532.9 L2415.5 534.4 L2416.5 536.8 L2417.5 540.0 L2418.5 544.0 L2419.5 548.9 L2421.5 561.3 L2423.5 577.8 L2425.6 598.8 L2427.6 625.3 L2429.1 649.4 L2430.6 678.1 L2431.6 700.3 L2433.1 739.2 L2434.1 769.8 L2435.3 810.7 L2436.3 855.3 L2438.8 974.4 L2439.5 994.0 L2439.7 998.3 L2440.0 1000.0 L2440.2 995.6 L2440.3 980.6 L2441.5 814.6 L2442.5 719.1 L2443.1 680.8 L2444.1 622.0 L2445.2 580.0 L2446.0 556.7" stroke-dashoffset="4.56"/>
</g>
<path d="M633.1 1669.0 L642.2 1589.8 L651.2 1514.8 L660.2 1442.6 L669.2 1373.0 L678.2 1306.2 L687.2 1242.0 L696.2 1180.4 L705.8 1118.1 L715.2 1058.6 L724.8 1001.9 L734.2 947.8 L743.8 896.3 L753.2 847.3 L763.2 798.4 L772.8 754.4 L782.8 710.6 L792.8 669.3 L802.8 630.5 L812.8 594.1 L817.8 576.8 L823.2 558.5 L828.2 542.4 L833.2 526.9 L838.8 510.5 L843.8 496.2 L849.2 481.1 L854.2 468.0 L859.2 455.4 L864.8 442.2 L869.8 430.8 L875.2 418.8 L880.8 407.5 L885.8 397.8 L891.2 387.8 L896.2 379.2 L901.8 370.3 L907.2 362.1 L912.2 355.2 L917.8 348.1 L923.2 341.7 L928.8 335.8 L934.2 330.6 L939.8 325.9 L945.2 321.8 L950.8 318.3 L955.2 315.9 L960.8 313.4 L966.2 311.4 L971.8 310.0 L977.8 309.0 L983.2 308.7 L987.8 308.8 L993.8 309.4 L999.2 310.5 L1005.2 312.2 L1010.8 314.2 L1016.8 316.9 L1022.8 320.2 L1028.8 323.9 L1034.8 328.0 L1041.2 333.0 L1047.8 338.6 L1054.2 344.6 L1060.8 351.0 L1067.2 358.0 L1073.8 365.3 L1080.8 373.7 L1087.8 382.6 L1094.2 391.3 L1101.2 401.1 L1108.2 411.3 L1115.2 422.1 L1121.8 432.5 L1128.2 443.4 L1134.8 454.8 L1140.8 465.8 L1146.8 477.3 L1151.8 487.2 L1156.8 497.6 L1165.8 517.4 L1174.2 537.6 L1178.8 549.0 L1182.8 559.6 L1189.8 579.1 L1196.6 599.6 L1198.5 606.6 L1202.5 623.2 L1204.5 630.8 L1209.5 646.8 L1211.5 652.4 L1213.0 656.0 L1215.0 660.0 L1217.5 663.9 L1220.0 667.2 L1222.5 669.9 L1224.5 671.6 L1226.0 672.6 L1228.0 673.6 L1231.5 674.9 L1233.5 675.9 L1235.0 677.0 L1236.0 678.2 L1237.5 681.3 L1239.0 685.5 L1240.5 690.5 L1242.5 698.1 L1244.0 704.3 L1245.0 709.4 L1247.5 725.0 L1249.5 741.3 L1251.5 761.2 L1256.5 817.1 L1259.5 854.2 L1261.0 875.0 L1261.5 883.5 L1263.5 924.4 L1264.0 930.7 L1264.5 933.0 L1265.0 931.9 L1265.5 928.6 L1266.5 916.9 L1267.5 899.7 L1270.5 834.8 L1272.0 807.0 L1274.5 775.6 L1276.5 753.4 L1278.5 735.2 L1280.0 725.0 L1283.0 708.7 L1285.0 699.0 L1287.0 690.8 L1288.5 686.0 L1289.5 683.6 L1290.5 682.0 L1291.5 681.1 L1292.0 681.0 L1292.5 681.1 L1293.0 681.5 L1293.5 682.2 L1294.5 684.1 L1295.5 686.8 L1296.5 690.2 L1299.0 700.8 L1305.0 730.2 L1306.5 740.0 L1310.5 769.9 L1312.0 779.2 L1313.0 783.8 L1314.0 786.9 L1314.5 787.7 L1315.0 788.0 L1315.5 787.6 L1316.0 786.4 L1317.0 781.9 L1318.0 774.9 L1319.0 766.0 L1320.5 750.2 L1324.0 710.1 L1326.5 684.8 L1329.5 651.8 L1331.0 636.9 L1332.0 628.6 L1333.0 622.1 L1335.8 607.1 L1339.8 580.8 L1341.3 572.3 L1342.3 568.0 L1343.7 563.0 L1345.2 558.6 L1346.6 554.7 L1348.1 551.4 L1349.5 548.8 L1351.5 546.0 L1353.4 543.7 L1355.9 541.3 L1363.7 534.5 L1368.5 530.6 L1372.9 527.6 L1374.4 526.2 L1375.4 524.9 L1376.4 522.8 L1377.9 518.4 L1388.5 481.8 L1391.8 471.8 L1394.7 464.0 L1398.0 456.3 L1401.3 449.7 L1405.7 442.5 L1409.1 437.6 L1410.6 436.0 L1412.1 434.6 L1414.1 433.0 L1416.6 431.4 L1421.1 428.9 L1430.4 425.0 L1437.3 421.4 L1443.3 417.8 L1449.7 412.8 L1452.2 411.3 L1458.0 408.4 L1461.5 407.1 L1464.4 406.3 L1467.3 406.1 L1470.7 406.3 L1474.6 406.9 L1482.5 408.5 L1487.3 409.8 L1492.7 411.5 L1498.0 413.6 L1501.5 415.2 L1504.9 417.1 L1507.4 418.9 L1509.9 421.3 L1517.3 430.7 L1523.3 439.0 L1528.1 444.2 L1529.5 445.4 L1530.5 446.0 L1531.9 446.4 L1533.9 446.1 L1535.8 445.4 L1540.3 443.4 L1541.7 442.9 L1543.2 442.8 L1544.2 442.9 L1545.7 443.7 L1547.2 444.9 L1548.7 446.5 L1550.7 449.1 L1552.2 451.4 L1553.1 453.6 L1554.5 458.1 L1558.2 473.1 L1562.5 495.0 L1567.2 517.7 L1568.1 521.3 L1571.1 530.3 L1572.1 532.6 L1572.6 533.4 L1573.1 533.9 L1573.6 534.1 L1574.1 534.0 L1574.6 533.5 L1575.1 532.9 L1576.1 530.7 L1577.1 527.7 L1579.1 519.4 L1583.0 499.3 L1585.0 489.9 L1587.0 482.1 L1588.5 477.7 L1589.5 475.4 L1590.5 473.8 L1591.5 472.8 L1592.5 472.5 L1593.0 472.6 L1593.5 472.9 L1594.5 474.0 L1595.6 475.8 L1596.1 477.1 L1597.6 481.8 L1599.2 488.4 L1600.7 496.9 L1602.2 507.3 L1603.8 519.8 L1604.8 529.5 L1607.3 558.5 L1609.9 595.7 L1611.9 632.3 L1614.0 675.3 L1617.1 747.0 L1618.0 764.9 L1619.1 778.9 L1619.5 781.8 L1619.8 782.7 L1620.0 783.0 L1620.2 782.8 L1620.4 782.1 L1620.8 778.8 L1621.8 764.4 L1623.0 737.3 L1626.1 660.2 L1627.7 626.2 L1629.7 587.6 L1630.7 570.9 L1632.2 549.0 L1633.3 536.3 L1634.8 519.6 L1636.3 505.7 L1637.8 494.3 L1638.9 488.0 L1640.4 480.3 L1641.9 474.8 L1642.4 473.4 L1643.5 471.2 L1644.5 469.9 L1645.0 469.6 L1645.5 469.5 L1646.0 469.6 L1646.5 469.9 L1647.0 470.5 L1648.1 472.2 L1648.6 473.5 L1650.1 478.5 L1651.7 485.6 L1653.2 494.8 L1654.7 506.5 L1656.3 520.6 L1657.8 537.4 L1658.8 550.3 L1661.4 588.7 L1663.4 626.3 L1667.1 703.6 L1668.5 728.9 L1669.1 737.8 L1669.6 742.1 L1670.1 745.2 L1670.3 745.8 L1670.5 746.0 L1670.8 745.6 L1671.1 744.7 L1671.6 741.2 L1672.2 735.9 L1673.0 725.2 L1674.1 705.1 L1678.1 627.5 L1680.2 592.2 L1682.7 554.8 L1685.2 524.3 L1686.8 509.0 L1688.3 495.7 L1689.8 484.2 L1691.3 474.4 L1692.9 466.3 L1694.4 459.6 L1695.9 454.4 L1696.9 451.7 L1698.0 449.7 L1699.0 448.2 L1699.5 447.7 L1700.5 447.1 L1701.5 447.1 L1702.0 447.3 L1703.0 448.1 L1704.0 449.4 L1705.5 452.4 L1706.5 455.0 L1708.0 459.9 L1710.0 468.1 L1712.5 480.9 L1714.5 492.8 L1719.0 521.6 L1721.0 533.2 L1722.0 538.0 L1723.0 542.0 L1724.0 545.0 L1725.0 546.9 L1725.5 547.3 L1726.0 547.5 L1726.5 547.4 L1727.0 547.0 L1727.5 546.4 L1728.5 544.6 L1730.0 540.6 L1731.0 537.1 L1732.5 531.2 L1736.5 513.4 L1738.5 505.2 L1742.0 493.4 L1747.5 473.6 L1750.0 465.6 L1752.0 460.6 L1753.5 457.9 L1754.5 456.7 L1755.0 456.3 L1755.5 456.1 L1756.5 456.1 L1757.0 456.3 L1758.0 457.1 L1759.5 459.1 L1761.0 462.0 L1765.0 470.8 L1766.0 472.5 L1767.0 473.7 L1768.0 474.3 L1769.0 474.4 L1770.0 474.2 L1772.0 473.6 L1777.0 471.4 L1779.0 471.0 L1780.5 471.2 L1782.0 472.1 L1783.0 473.0 L1784.0 474.3 L1785.5 476.6 L1787.5 480.6 L1789.5 485.2 L1792.0 491.6 L1795.0 500.0 L1796.0 503.6 L1797.0 508.6 L1798.0 514.7 L1802.5 547.1 L1804.0 556.6 L1805.0 561.6 L1806.0 565.3 L1806.5 566.5 L1807.0 567.2 L1807.5 567.5 L1808.0 567.2 L1808.5 566.5 L1809.5 563.4 L1810.5 558.5 L1811.5 552.1 L1813.0 540.5 L1817.0 505.2 L1819.0 488.6 L1821.0 474.1 L1823.0 462.1 L1824.5 454.9 L1825.5 450.9 L1826.5 447.7 L1827.5 445.2 L1828.5 443.4 L1829.5 442.4 L1830.0 442.1 L1830.5 442.0 L1831.0 442.1 L1831.5 442.5 L1832.5 444.0 L1833.5 446.4 L1835.0 452.0 L1836.6 460.0 L1838.1 470.5 L1839.6 483.8 L1841.1 500.1 L1842.6 519.8 L1843.6 535.1 L1845.7 571.9 L1847.7 618.7 L1849.7 678.0 L1853.0 792.9 L1853.8 811.8 L1854.1 815.9 L1854.3 817.1 L1854.5 817.5 L1854.7 817.2 L1854.9 816.3 L1855.3 811.9 L1856.2 793.2 L1859.8 679.0 L1862.3 613.2 L1863.3 591.4 L1864.8 562.8 L1865.9 546.2 L1867.4 524.4 L1868.9 505.9 L1870.9 485.7 L1872.4 473.5 L1874.4 460.8 L1876.0 453.6 L1877.0 449.9 L1878.0 447.1 L1879.0 445.1 L1880.0 443.9 L1880.5 443.6 L1881.0 443.5 L1881.5 443.6 L1882.0 444.0 L1883.0 445.5 L1884.0 448.0 L1885.5 453.7 L1886.6 458.8 L1887.6 465.0 L1889.1 476.7 L1890.6 491.2 L1892.1 509.0 L1893.6 530.6 L1895.1 556.7 L1897.2 600.1 L1899.2 656.6 L1900.8 713.5 L1903.8 846.7 L1904.5 864.6 L1904.7 868.5 L1905.0 870.0 L1905.3 868.7 L1905.6 864.1 L1906.3 844.7 L1909.0 727.2 L1910.6 670.6 L1912.2 626.0 L1913.7 589.7 L1915.7 551.2 L1916.8 535.4 L1918.3 515.3 L1919.3 504.0 L1920.8 489.9 L1922.4 479.0 L1923.9 470.9 L1924.9 467.0 L1926.0 464.2 L1927.0 462.5 L1927.5 462.1 L1928.0 462.0 L1928.5 462.1 L1929.0 462.2 L1930.0 463.0 L1931.0 464.1 L1932.0 465.7 L1933.5 468.7 L1935.5 473.7 L1937.5 479.8 L1939.5 486.6 L1948.0 517.4 L1949.0 521.8 L1950.5 529.5 L1956.0 560.6 L1958.0 569.9 L1959.0 573.5 L1960.0 576.3 L1961.0 578.1 L1961.5 578.5 L1962.0 578.7 L1962.5 578.5 L1963.0 578.1 L1963.5 577.3 L1964.5 574.9 L1965.5 571.7 L1968.5 560.1 L1969.5 556.6 L1971.0 552.8 L1972.0 551.3 L1972.5 550.9 L1973.0 550.8 L1973.5 551.0 L1974.0 551.5 L1974.5 552.3 L1975.5 554.7 L1976.5 558.1 L1979.0 568.2 L1980.0 571.6 L1980.5 572.8 L1981.0 573.8 L1981.5 574.4 L1982.0 574.6 L1982.5 574.2 L1983.0 573.2 L1984.0 569.1 L1985.5 558.7 L1987.0 545.0 L1991.5 500.0 L1993.5 483.4 L1995.0 473.3 L1996.0 467.7 L1997.0 463.2 L1998.5 458.2 L1999.5 456.1 L2000.0 455.5 L2000.5 455.1 L2001.0 455.0 L2001.5 455.1 L2002.5 455.8 L2003.5 457.1 L2004.0 458.1 L2005.0 460.5 L2006.0 463.7 L2007.1 467.5 L2008.6 474.8 L2009.6 480.6 L2011.6 494.9 L2013.6 512.9 L2015.6 535.5 L2017.6 563.3 L2019.2 588.5 L2020.7 618.3 L2021.7 641.3 L2023.2 681.6 L2024.2 713.3 L2026.1 785.1 L2028.9 924.8 L2029.5 944.2 L2029.8 948.7 L2030.0 950.0 L2030.2 948.5 L2030.4 944.7 L2030.9 927.0 L2033.2 793.5 L2034.1 747.3 L2035.4 697.3 L2036.4 662.9 L2037.9 620.0 L2038.9 595.8 L2040.3 564.8 L2041.8 538.8 L2043.8 510.5 L2045.8 488.0 L2046.8 478.6 L2048.3 466.5 L2050.3 454.0 L2051.3 449.1 L2052.8 443.3 L2053.8 440.5 L2054.3 439.5 L2055.3 437.9 L2055.8 437.4 L2056.3 437.1 L2056.8 437.0 L2057.3 437.1 L2057.8 437.5 L2058.8 439.0 L2059.3 440.2 L2060.3 443.3 L2061.8 449.9 L2062.8 455.8 L2064.3 466.8 L2065.4 475.8 L2067.4 498.1 L2069.4 527.4 L2071.4 565.6 L2072.9 602.1 L2074.4 648.2 L2075.4 686.4 L2076.5 737.1 L2077.5 794.6 L2078.2 851.7 L2079.4 988.0 L2080.4 1186.7 L2080.7 1215.0 L2081.0 1191.0 L2082.3 980.4 L2083.3 871.7 L2084.5 786.4 L2085.7 729.2 L2086.7 688.2 L2088.2 639.0 L2089.7 600.2 L2091.3 568.8 L2093.3 535.6 L2095.3 509.9 L2097.4 490.3 L2098.4 482.4 L2099.4 475.8 L2100.4 470.3 L2101.9 464.0 L2102.4 462.4 L2103.5 459.9 L2104.0 459.1 L2104.5 458.5 L2105.0 458.1 L2105.5 458.0 L2106.5 458.3 L2107.5 459.2 L2108.5 460.7 L2109.5 462.7 L2110.5 465.4 L2112.0 470.6 L2114.0 479.7 L2115.5 488.2 L2117.1 498.2 L2118.6 509.7 L2120.1 522.8 L2121.6 537.4 L2124.1 564.8 L2128.8 621.1 L2130.4 637.4 L2131.1 643.8 L2132.0 649.2 L2132.8 652.6 L2133.2 653.5 L2133.5 653.9 L2133.9 654.0 L2134.2 653.5 L2135.0 650.9 L2135.5 647.4 L2136.4 640.3 L2137.6 626.5 L2141.1 580.3 L2143.1 555.8 L2145.1 535.4 L2147.0 519.4 L2148.0 513.1 L2149.0 508.0 L2150.0 504.1 L2150.5 502.5 L2151.5 500.3 L2152.0 499.6 L2152.5 499.1 L2153.0 499.0 L2153.5 499.2 L2154.0 499.8 L2154.5 500.9 L2155.6 504.2 L2156.6 509.2 L2157.1 512.4 L2158.7 524.7 L2160.2 541.3 L2161.7 562.6 L2163.3 589.1 L2164.8 621.1 L2169.1 726.5 L2170.1 743.0 L2170.5 746.6 L2170.9 748.0 L2171.1 747.8 L2171.3 747.0 L2171.7 743.4 L2172.5 728.1 L2175.8 626.5 L2176.9 599.7 L2178.4 566.8 L2179.4 549.3 L2180.4 535.1 L2181.4 524.0 L2181.9 519.6 L2183.0 512.8 L2183.5 510.5 L2184.0 508.8 L2184.5 507.8 L2185.0 507.5 L2185.5 507.6 L2186.5 508.5 L2187.5 510.1 L2189.0 513.9 L2193.5 529.5 L2194.5 532.4 L2195.5 534.4 L2196.0 535.1 L2196.5 535.5 L2199.0 535.9 L2204.0 538.0 L2205.5 538.4 L2206.5 538.5 L2207.0 538.8 L2207.5 539.8 L2208.0 541.3 L2208.5 543.5 L2209.6 549.9 L2210.6 559.1 L2211.6 571.2 L2212.6 586.5 L2213.6 605.6 L2214.6 629.1 L2216.2 674.4 L2217.7 736.6 L2218.7 791.6 L2219.7 858.6 L2221.1 972.0 L2221.4 990.1 L2221.7 995.5 L2222.2 991.6 L2222.7 980.4 L2223.7 940.0 L2224.7 881.9 L2227.1 708.1 L2228.1 646.9 L2229.0 601.7 L2229.5 587.4 L2230.0 580.0 L2231.0 573.6 L2232.0 568.8 L2235.4 556.2 L2242.4 528.1 L2245.3 517.5 L2246.8 512.9 L2248.3 509.1 L2249.8 506.1 L2251.3 504.1 L2252.3 503.3 L2252.8 503.1 L2253.8 503.1 L2254.8 503.5 L2255.3 504.0 L2256.8 505.9 L2258.3 509.0 L2259.4 511.7 L2260.9 516.7 L2261.9 520.7 L2263.4 527.8 L2264.4 533.2 L2266.9 549.6 L2268.9 565.9 L2271.0 585.4 L2273.0 608.7 L2275.0 636.6 L2276.5 661.3 L2278.0 689.9 L2279.5 723.3 L2280.6 749.0 L2281.9 788.3 L2283.9 858.9 L2286.9 991.0 L2287.5 1008.3 L2287.7 1012.0 L2288.0 1013.5 L2288.3 1007.8 L2288.7 988.9 L2290.5 850.1 L2292.2 752.0 L2293.3 705.0 L2294.3 668.8 L2295.3 638.1 L2296.8 599.9 L2298.3 568.9 L2299.8 543.4 L2301.8 516.4 L2303.8 495.8 L2304.8 487.6 L2305.8 480.6 L2306.8 474.8 L2307.8 470.2 L2308.8 466.6 L2309.3 465.2 L2310.3 463.1 L2310.8 462.5 L2311.3 462.1 L2311.8 462.0 L2312.3 462.3 L2312.8 463.1 L2313.3 464.4 L2314.3 468.7 L2315.8 479.1 L2316.8 488.9 L2317.8 500.9 L2319.3 523.5 L2321.3 562.5 L2322.8 599.0 L2324.3 642.6 L2325.8 694.0 L2327.8 776.6 L2329.8 878.2 L2332.3 1037.3 L2336.1 1329.6 L2337.1 1380.6 L2337.5 1391.7 L2337.8 1394.8 L2338.0 1396.0 L2338.3 1394.8 L2338.6 1391.5 L2339.2 1379.9 L2339.7 1362.0 L2340.5 1325.9 L2341.7 1258.0 L2345.4 1011.7 L2347.4 893.0 L2349.9 767.8 L2351.4 704.7 L2352.9 650.1 L2354.5 603.3 L2356.0 563.7 L2357.5 531.0 L2359.0 504.7 L2360.5 484.5 L2362.0 470.3 L2363.0 464.0 L2363.5 461.8 L2364.0 460.3 L2364.5 459.3 L2365.0 459.0 L2365.5 459.4 L2366.0 460.4 L2366.5 462.2 L2367.0 464.6 L2368.1 471.6 L2369.1 481.4 L2370.1 493.9 L2371.1 509.1 L2373.2 547.2 L2375.2 594.9 L2377.3 651.1 L2379.3 713.9 L2384.4 881.1 L2387.0 954.1 L2388.2 982.8 L2389.6 1007.1 L2390.8 1021.1 L2391.5 1026.2 L2392.0 1028.4 L2392.4 1029.0 L2392.5 1029.0 L2392.7 1028.7 L2393.1 1023.8 L2393.7 1010.7 L2394.3 991.3 L2398.9 774.6 L2400.4 715.1 L2401.9 665.1 L2402.9 636.8 L2404.5 601.1 L2406.0 572.9 L2407.5 551.6 L2409.0 536.7 L2410.0 530.2 L2410.5 527.9 L2411.0 526.3 L2411.5 525.3 L2412.0 525.0 L2412.5 525.1 L2413.0 525.4 L2413.5 525.9 L2414.6 527.5 L2415.1 528.6 L2416.1 531.4 L2417.6 537.2 L2419.2 545.0 L2420.7 554.9 L2421.7 562.8 L2423.3 576.7 L2424.3 587.5 L2426.3 613.4 L2428.4 646.1 L2429.9 676.4 L2431.4 713.4 L2432.5 743.0 L2433.5 777.7 L2434.7 826.6 L2436.2 914.3 L2437.3 1002.4 L2438.2 1118.5 L2438.8 1255.8 L2439.5 1486.0 L2440.1 1128.2 L2440.5 1012.5 L2441.1 895.5 L2442.1 787.9 L2443.2 715.7 L2443.7 688.4 L2444.8 645.5 L2446.0 609.6" fill="none" stroke="#000000" stroke-width="13.75" stroke-linejoin="round" stroke-linecap="butt"/>
<path d="M515.7 1669.0 L531.8 1605.5 L550.2 1533.5 L572.8 1447.2 L599.8 1344.7 L626.2 1244.9 L649.8 1157.3 L670.2 1081.9 L689.2 1013.1 L704.8 958.0 L719.8 905.8 L733.8 858.1 L747.8 811.6 L760.8 769.5 L773.8 728.8 L786.2 690.8 L798.8 654.2 L811.8 617.6 L824.2 583.9 L836.8 551.8 L849.2 521.4 L855.2 507.3 L861.2 493.7 L867.2 480.6 L873.2 467.8 L879.2 455.4 L885.2 443.5 L891.2 432.1 L896.8 422.0 L902.2 412.3 L908.2 402.1 L913.8 393.2 L919.8 384.0 L925.2 376.0 L931.2 367.7 L936.8 360.5 L942.2 353.8 L947.8 347.6 L953.2 341.8 L958.8 336.4 L964.2 331.5 L969.8 327.1 L975.2 323.1 L980.2 319.9 L985.8 316.9 L991.2 314.3 L996.8 312.3 L1002.2 310.8 L1007.8 309.8 L1013.2 309.3 L1017.8 309.3 L1023.2 309.7 L1028.2 310.7 L1033.8 312.2 L1038.8 314.1 L1043.8 316.4 L1048.8 319.2 L1053.8 322.5 L1059.2 326.6 L1064.2 330.9 L1069.2 335.6 L1074.2 340.9 L1079.2 346.6 L1084.2 352.9 L1089.2 359.6 L1094.2 366.9 L1099.2 374.6 L1104.2 382.9 L1109.2 391.7 L1114.2 401.0 L1119.2 410.7 L1124.2 421.1 L1129.2 431.9 L1134.2 443.2 L1139.2 455.0 L1144.2 467.3 L1149.2 480.2 L1156.2 498.9 L1163.8 520.1 L1170.8 540.9 L1178.1 563.7 L1183.5 581.5 L1188.5 598.7 L1193.5 616.5 L1198.5 635.0 L1202.0 648.5 L1206.5 666.7 L1231.5 770.5 L1237.5 796.2 L1248.5 845.2 L1254.0 868.8 L1281.0 977.9 L1284.0 991.1 L1287.0 1005.4 L1289.5 1018.8 L1292.0 1033.4 L1296.0 1059.3 L1300.0 1087.5 L1301.5 1099.7 L1305.0 1132.0 L1306.5 1143.8 L1309.0 1158.2 L1310.5 1165.5 L1311.5 1168.8 L1312.0 1169.7 L1312.5 1170.0 L1313.0 1169.9 L1313.5 1169.4 L1314.0 1168.7 L1315.0 1166.6 L1316.0 1163.6 L1317.0 1159.7 L1318.0 1155.1 L1319.0 1150.0 L1319.5 1146.0 L1320.5 1132.3 L1322.0 1107.1 L1323.0 1093.8 L1325.0 1070.8 L1330.0 1017.0 L1334.0 967.5 L1336.0 945.0 L1338.5 921.5 L1341.0 900.3 L1346.0 861.3 L1350.5 828.2 L1354.5 800.8 L1359.0 772.2 L1363.5 745.6 L1369.0 715.0 L1374.0 688.8 L1379.5 661.4 L1387.5 623.6 L1393.5 596.3 L1398.5 575.0 L1403.0 557.3 L1408.5 537.1 L1414.5 516.4 L1420.0 498.7 L1434.0 455.6 L1439.0 441.3 L1441.5 434.8 L1443.5 430.0 L1447.0 422.6 L1450.0 417.5 L1456.5 407.9 L1461.5 400.8 L1466.0 394.7 L1470.5 389.0 L1473.5 385.4 L1476.5 382.2 L1479.5 379.1 L1482.5 376.4 L1485.5 374.0 L1488.0 372.3 L1490.5 370.9 L1493.0 369.7 L1496.5 368.5 L1500.0 368.0 L1503.0 368.1 L1506.5 368.8 L1510.0 370.2 L1513.5 372.2 L1517.0 374.6 L1520.5 377.6 L1524.5 381.6 L1528.5 386.1 L1533.0 391.6 L1537.5 397.7 L1544.0 407.1 L1552.5 420.0 L1554.5 423.4 L1557.0 428.3 L1559.0 432.8 L1561.5 439.0 L1566.0 451.5 L1570.5 465.1 L1581.0 498.1 L1586.0 515.0 L1596.5 553.3 L1601.0 569.0 L1611.0 601.7 L1624.0 642.5 L1626.0 648.4 L1628.5 655.1 L1635.5 672.1 L1638.5 679.7 L1641.0 686.9 L1643.0 693.2 L1645.0 700.4 L1646.5 706.3 L1648.0 712.8 L1649.5 720.1 L1650.5 726.3 L1652.0 737.7 L1654.5 760.7 L1659.5 811.3 L1662.0 839.7 L1663.5 860.0 L1664.5 876.5 L1667.0 932.9 L1667.5 940.0 L1668.5 950.6 L1669.0 954.9 L1669.5 957.9 L1670.0 959.0 L1670.5 958.0 L1671.0 955.0 L1671.5 950.5 L1672.5 937.9 L1676.5 878.3 L1684.0 759.6 L1688.0 702.5 L1690.0 677.6 L1691.0 667.5 L1692.5 654.4 L1694.0 642.4 L1696.0 627.9 L1697.5 618.1 L1699.5 606.3 L1701.0 598.3 L1703.0 588.7 L1706.5 573.6 L1710.0 560.2 L1714.0 546.5 L1718.5 532.8 L1727.0 509.4 L1735.0 488.5 L1741.0 474.2 L1744.0 467.6 L1746.5 462.6 L1750.5 455.4 L1752.5 452.2 L1754.5 449.4 L1763.9 438.1 L1767.4 434.3 L1770.4 431.3 L1772.8 429.0 L1775.3 427.1 L1777.8 425.5 L1779.8 424.4 L1781.7 423.6 L1783.7 423.2 L1785.7 423.0 L1787.7 423.2 L1790.2 423.8 L1793.1 425.1 L1796.1 427.0 L1799.6 429.9 L1803.1 433.2 L1807.0 437.6 L1814.0 446.0 L1815.5 448.2 L1817.0 450.9 L1818.5 454.1 L1821.5 461.7 L1825.0 472.1 L1831.5 492.9 L1834.5 502.1 L1837.5 510.3 L1839.0 513.9 L1840.5 517.1 L1843.5 522.4 L1847.0 528.0 L1851.0 533.8 L1855.5 539.7 L1863.5 549.8 L1866.0 552.3 L1872.0 557.8 L1874.0 560.0 L1875.5 562.0 L1877.5 565.1 L1879.5 569.1 L1880.5 572.1 L1881.5 575.9 L1882.5 580.6 L1884.0 588.9 L1886.5 606.0 L1888.0 618.0 L1890.0 635.6 L1891.0 645.0 L1892.0 656.3 L1893.0 670.4 L1894.5 695.0 L1897.5 747.2 L1899.0 776.4 L1900.0 799.0 L1902.0 865.1 L1902.5 875.0 L1904.0 891.5 L1905.0 900.1 L1906.0 906.3 L1906.5 908.3 L1907.0 909.6 L1907.5 910.0 L1908.0 902.7 L1910.0 820.0 L1911.0 797.0 L1914.0 742.5 L1917.5 675.1 L1919.0 651.8 L1921.0 623.7 L1922.5 605.3 L1924.0 590.0 L1926.5 568.7 L1928.5 554.0 L1930.5 542.0 L1932.0 535.0 L1934.5 525.8 L1937.0 518.4 L1938.5 514.9 L1940.0 512.0 L1942.5 508.0 L1945.0 504.5 L1947.5 501.3 L1950.5 498.0 L1953.5 495.1 L1956.5 492.6 L1965.0 486.4 L1971.5 481.9 L1976.5 478.7 L1980.5 476.4 L1984.5 474.6 L1988.5 473.1 L1992.5 472.3 L1996.0 472.0 L1997.0 472.2 L1998.5 473.0 L2000.0 474.5 L2001.5 476.5 L2003.0 479.1 L2004.5 482.1 L2007.5 489.3 L2010.5 497.5 L2019.5 523.4 L2021.5 530.7 L2025.5 548.2 L2027.0 554.0 L2028.0 557.3 L2029.0 559.8 L2030.0 561.4 L2030.5 561.9 L2031.0 562.0 L2031.5 561.9 L2032.5 561.2 L2033.5 559.9 L2035.0 556.9 L2036.0 554.2 L2037.5 549.6 L2041.5 535.6 L2043.5 529.1 L2045.5 523.7 L2046.5 521.6 L2047.5 519.8 L2048.5 518.4 L2049.5 517.5 L2050.5 517.1 L2051.5 517.1 L2052.5 517.5 L2053.5 518.4 L2054.5 519.7 L2055.5 521.4 L2057.5 525.9 L2060.0 533.5 L2062.0 541.0 L2062.5 543.7 L2063.0 547.7 L2064.0 558.8 L2067.0 601.0 L2070.0 638.8 L2071.5 661.5 L2072.5 680.0 L2073.5 706.8 L2076.0 786.6 L2078.5 876.0 L2080.0 922.9 L2081.0 945.6 L2081.5 953.4 L2082.0 958.3 L2082.5 960.0 L2083.0 947.4 L2083.5 914.7 L2085.0 771.0 L2085.5 733.0 L2086.0 712.5 L2087.0 696.5 L2088.5 679.9 L2089.5 672.2 L2092.5 652.3 L2094.0 637.5 L2094.9 623.5 L2097.8 572.1 L2098.7 560.0 L2101.1 536.8 L2103.1 520.5 L2104.6 510.7 L2106.0 503.7 L2107.0 501.0 L2107.5 500.2 L2108.0 500.0 L2109.0 500.1 L2110.5 500.6 L2112.5 501.9 L2114.0 503.2 L2116.0 505.4 L2119.0 509.2 L2125.5 518.2 L2127.0 520.4 L2133.5 531.6 L2139.5 541.1 L2149.5 558.0 L2152.4 562.7 L2155.4 567.1 L2158.9 571.5 L2160.9 573.6 L2162.4 575.0 L2164.4 576.4 L2165.9 577.2 L2167.4 577.7 L2168.9 578.0 L2169.9 577.9 L2170.4 577.6 L2171.4 576.4 L2172.4 574.5 L2173.9 570.3 L2176.3 560.9 L2182.8 532.4 L2184.8 525.0 L2186.8 519.0 L2187.7 516.6 L2188.7 514.6 L2189.7 513.0 L2190.7 511.9 L2191.7 511.2 L2192.7 511.0 L2193.2 511.1 L2193.7 511.6 L2194.2 512.3 L2195.2 514.4 L2196.6 519.4 L2198.1 526.3 L2199.6 534.9 L2201.1 544.8 L2203.0 559.9 L2206.5 590.0 L2207.5 602.9 L2208.5 618.6 L2213.5 704.7 L2214.5 725.4 L2215.5 752.6 L2216.4 796.7 L2219.8 994.1 L2220.8 1031.0 L2221.3 1041.3 L2221.8 1045.0 L2222.2 1040.0 L2222.7 1026.1 L2223.2 1004.7 L2224.1 946.1 L2226.1 808.0 L2227.0 753.3 L2227.5 735.0 L2229.0 695.5 L2230.0 674.8 L2231.5 649.6 L2233.5 621.0 L2235.0 602.9 L2236.5 588.0 L2237.5 580.0 L2241.0 555.7 L2243.5 540.0 L2245.5 528.9 L2247.5 519.8 L2248.5 516.1 L2249.5 513.0 L2251.0 509.7 L2252.0 508.4 L2252.5 508.1 L2253.0 508.0 L2253.5 508.1 L2254.0 508.4 L2254.5 509.0 L2255.5 510.6 L2256.5 513.0 L2257.5 516.0 L2259.5 523.7 L2262.0 535.7 L2271.0 585.7 L2273.0 599.9 L2278.0 641.2 L2279.5 652.0 L2280.5 658.0 L2281.5 662.9 L2282.5 666.4 L2283.0 667.5 L2283.5 668.3 L2284.0 668.5 L2284.5 668.3 L2285.0 667.6 L2285.5 666.5 L2286.5 663.2 L2288.0 655.9 L2290.0 642.8 L2296.0 597.2 L2301.0 547.6 L2302.0 539.1 L2303.0 532.2 L2304.0 527.5 L2305.5 522.4 L2307.5 516.4 L2309.0 512.7 L2310.5 509.9 L2311.5 508.7 L2312.5 508.1 L2313.0 508.0 L2313.5 508.4 L2314.0 509.5 L2315.0 513.6 L2316.5 523.5 L2318.0 536.6 L2324.0 592.5 L2325.5 609.6 L2327.0 631.4 L2328.0 650.7 L2328.5 664.5 L2330.0 717.5 L2331.0 767.3 L2332.0 834.7 L2335.0 1067.6 L2336.0 1130.6 L2337.0 1173.9 L2337.5 1185.8 L2338.0 1190.0 L2338.5 1185.6 L2339.0 1173.0 L2340.0 1127.7 L2341.0 1062.2 L2344.0 828.6 L2345.0 766.1 L2345.5 742.3 L2346.0 725.0 L2347.5 690.4 L2352.0 611.9 L2354.0 580.8 L2355.0 570.0 L2356.0 561.7 L2357.9 546.2 L2359.8 533.2 L2361.3 526.1 L2362.2 522.9 L2362.7 521.9 L2363.2 521.2 L2363.7 521.0 L2364.2 521.1 L2364.7 521.6 L2365.6 523.1 L2366.6 525.5 L2367.6 528.6 L2370.0 538.3 L2371.5 544.9 L2372.5 550.9 L2373.5 558.3 L2375.0 571.3 L2381.0 629.9 L2385.0 677.2 L2386.5 691.8 L2387.5 698.7 L2388.0 701.0 L2388.5 702.5 L2389.0 703.0 L2389.5 702.7 L2390.0 701.9 L2391.0 698.9 L2392.0 694.3 L2393.5 684.9 L2395.0 673.4 L2398.5 643.9 L2401.5 621.1 L2406.5 578.0 L2408.5 563.3 L2410.0 555.0 L2411.5 547.9 L2412.5 543.8 L2413.0 542.3 L2413.5 541.4 L2414.0 541.0 L2414.5 541.2 L2415.0 541.8 L2415.5 542.7 L2416.5 545.7 L2417.5 549.9 L2419.0 558.2 L2421.5 576.3 L2424.5 602.2 L2426.0 620.5 L2427.0 636.2 L2428.5 665.9 L2429.5 691.9 L2431.0 755.0 L2432.0 817.7 L2433.0 902.9 L2435.5 1145.9 L2436.5 1227.2 L2437.5 1283.8 L2438.0 1299.5 L2438.5 1305.0 L2438.7 1284.8 L2439.9 1038.3 L2440.5 956.4 L2441.3 885.4 L2442.3 819.7 L2443.4 772.0 L2444.4 736.1 L2445.4 709.0 L2446.0 696.5" fill="none" stroke="#00ff00" stroke-width="13.75" stroke-linejoin="round" stroke-linecap="butt" stroke-dasharray="39.3 37.8" stroke-dashoffset="0"/>
<g fill="#262626" font-family="'Liberation Serif','DejaVu Serif',serif"><text text-anchor="end" font-size="86"><tspan x="231.6" y="1712.7">10</tspan><tspan x="323.2" y="1674.4" font-size="68">-10</tspan></text><text text-anchor="end" font-size="86"><tspan x="265.6" y="1445.5">10</tspan><tspan x="323.2" y="1407.2" font-size="68">-9</tspan></text><text text-anchor="end" font-size="86"><tspan x="265.6" y="1176.8">10</tspan><tspan x="323.2" y="1138.5" font-size="68">-8</tspan></text><text text-anchor="end" font-size="86"><tspan x="265.6" y="911.5">10</tspan><tspan x="323.2" y="873.2" font-size="68">-7</tspan></text><text text-anchor="end" font-size="86"><tspan x="265.6" y="642.0">10</tspan><tspan x="323.2" y="603.7" font-size="68">-6</tspan></text><text text-anchor="end" font-size="86"><tspan x="265.6" y="376.5">10</tspan><tspan x="323.2" y="338.2" font-size="68">-5</tspan></text><text text-anchor="end" font-size="86"><tspan x="265.6" y="107.2">10</tspan><tspan x="323.2" y="68.9" font-size="68">-4</tspan></text><text text-anchor="end" font-size="86"><tspan x="376.4" y="1799.0">10</tspan><tspan x="410.4" y="1760.7" font-size="68">3</tspan></text><text text-anchor="end" font-size="86"><tspan x="1987.5" y="1799.0">10</tspan><tspan x="2022.4" y="1760.7" font-size="68">4</tspan></text></g>
<text x="1368.8" y="1908.8" font-size="88.5" textLength="61.95" lengthAdjust="spacingAndGlyphs" font-style="italic" fill="#262626" font-family="'Liberation Serif','DejaVu Serif',serif">n</text>
<text transform="translate(92.5,914) rotate(-90)" font-style="italic" fill="#262626" font-family="'Liberation Serif','DejaVu Serif',serif"><tspan x="0" y="0" font-size="96" textLength="64.50" lengthAdjust="spacingAndGlyphs">F</tspan><tspan x="56.7" y="15.5" font-size="63" textLength="39.69" lengthAdjust="spacingAndGlyphs">n</tspan></text>
<path d="M2002 142.8 H2196" stroke="#ff0000" stroke-width="13.75" stroke-dasharray="39.3 9 19.8 9" fill="none"/><path d="M2002 237 H2196" stroke="#000" stroke-width="13.75" fill="none"/><path d="M2002 330.9 H2196" stroke="#00ff00" stroke-width="13.75" stroke-dasharray="39.3 37.8" fill="none"/><text fill="#000" font-family="'Liberation Serif','DejaVu Serif',serif"><tspan x="2210" y="175.0" font-size="67" font-style="italic" textLength="40.32" lengthAdjust="spacingAndGlyphs">σ</tspan><tspan x="2251.7" y="182.5" font-size="80">=</tspan><tspan x="2295.5" y="175.0" font-size="76">5</tspan></text><text fill="#000" font-family="'Liberation Serif','DejaVu Serif',serif"><tspan x="2210" y="266.7" font-size="67" font-style="italic" textLength="40.32" lengthAdjust="spacingAndGlyphs">σ</tspan><tspan x="2251.7" y="274.2" font-size="80">=</tspan><tspan x="2296.5" y="266.7" font-size="76">10</tspan></text><text fill="#000" font-family="'Liberation Serif','DejaVu Serif',serif"><tspan x="2210" y="363.3" font-size="67" font-style="italic" textLength="40.32" lengthAdjust="spacingAndGlyphs">σ</tspan><tspan x="2251.7" y="370.8" font-size="80">=</tspan><tspan x="2296.5" y="363.3" font-size="76">20</tspan></text>
</svg>
</body></html>
